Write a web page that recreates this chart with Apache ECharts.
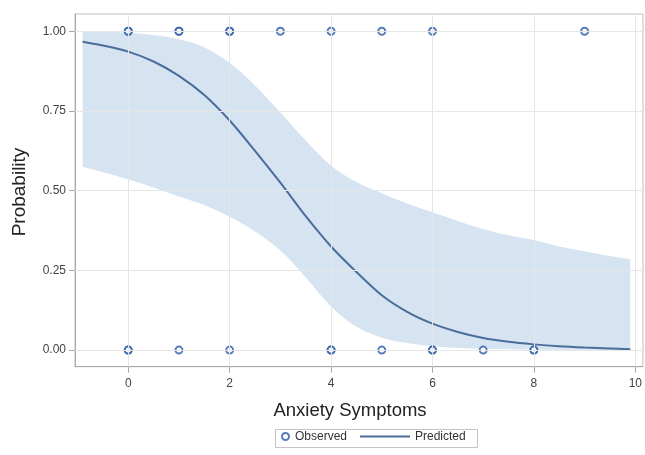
<!DOCTYPE html>
<html>
<head>
<meta charset="utf-8">
<script src="https://cdn.jsdelivr.net/npm/echarts@6/dist/echarts.min.js"></script>
<style>html,body{margin:0;padding:0;background:#fff;}#c{width:645px;height:455px;}</style>
</head>
<body>
<div id="c"></div>
<script>
// Predicted curve and confidence band
const curveX   = [-0.9, -0.5, 0, 0.5, 1, 1.5, 2, 2.5, 3, 3.5, 4, 4.5, 5, 5.5, 6, 6.5, 7, 7.5, 8, 8.5, 9, 9.5, 9.9];
const predicted = [0.967, 0.955, 0.936, 0.905, 0.86, 0.80, 0.72, 0.625, 0.525, 0.42, 0.325, 0.245, 0.172, 0.12, 0.083, 0.057, 0.038, 0.026, 0.018, 0.012, 0.008, 0.005, 0.003];
const upperCL  = [0.999, 0.998, 0.995, 0.988, 0.975, 0.95, 0.90, 0.83, 0.745, 0.657, 0.578, 0.527, 0.492, 0.46, 0.432, 0.405, 0.38, 0.36, 0.345, 0.325, 0.31, 0.295, 0.285];
const lowerCL  = [0.575, 0.558, 0.536, 0.51, 0.482, 0.455, 0.418, 0.372, 0.312, 0.228, 0.137, 0.073, 0.039, 0.022, 0.012, 0.007, 0.004, 0.003, 0.002, 0.001, 0.001, 0.0, 0.0];
// Observed outcomes
const obsX = [0, 0, 1, 1, 2, 2, 3, 4, 5, 6, 9, 0, 0, 1, 2, 4, 4, 5, 6, 6, 7, 8, 8];
const obsY = [1, 1, 1, 1, 1, 1, 1, 1, 1, 1, 1, 0, 0, 0, 0, 0, 0, 0, 0, 0, 0, 0, 0];
// Ticks
const xTicks = [0, 2, 4, 6, 8, 10];
const yTicks = [0, 0.25, 0.5, 0.75, 1];

const FONT = 'Liberation Sans, Arial, sans-serif';
const chart = echarts.init(document.getElementById('c'));

const bandData = curveX.map((x, i) => [x, lowerCL[i], upperCL[i]]);
const predData = curveX.map((x, i) => [x, predicted[i]]);
const obsData = obsX.map((x, i) => [x, obsY[i]]);

// Catmull-Rom smoothing of pixel points into SVG cubic segments (rendering only)
function smoothSegs(p) {
  let d = '';
  const n = p.length;
  for (let i = 0; i < n - 1; i++) {
    const p0 = p[Math.max(i - 1, 0)], p1 = p[i], p2 = p[i + 1], p3 = p[Math.min(i + 2, n - 1)];
    const c1 = [p1[0] + (p2[0] - p0[0]) / 6, p1[1] + (p2[1] - p0[1]) / 6];
    const c2 = [p2[0] - (p3[0] - p1[0]) / 6, p2[1] - (p3[1] - p1[1]) / 6];
    d += ' C' + c1[0] + ',' + c1[1] + ' ' + c2[0] + ',' + c2[1] + ' ' + p2[0] + ',' + p2[1];
  }
  return d;
}

chart.setOption({
  animation: false,
  backgroundColor: '#fff',
  grid: { left: 75, top: 14, width: 570, height: 352.7, show: true, borderColor: '#bdbdbd', borderWidth: 1, backgroundColor: 'transparent' },
  xAxis: {
    type: 'value', min: -1.05, max: 10.15,
    axisLine: { show: true, onZero: false, lineStyle: { color: '#a8a8a8', width: 1 } },
    axisTick: { show: true, customValues: xTicks, length: 6, lineStyle: { color: '#a8a8a8' } },
    axisLabel: { customValues: xTicks, color: '#444', fontSize: 12, fontFamily: FONT, margin: 11 },
    splitLine: { show: false }
  },
  yAxis: {
    type: 'value', min: -0.052, max: 1.054,
    axisLine: { show: true, onZero: false, lineStyle: { color: '#a8a8a8', width: 1 } },
    axisTick: { show: true, customValues: yTicks, length: 6, lineStyle: { color: '#a8a8a8' } },
    axisLabel: { customValues: yTicks, color: '#444', fontSize: 12, fontFamily: FONT, margin: 9,
      formatter: v => v.toFixed(2) },
    splitLine: { show: false }
  },
  legend: [
    { data: [{ name: 'Observed', icon: 'emptyCircle' }], left: 281, top: 430.5, itemWidth: 7, itemHeight: 7, padding: 0,
      itemStyle: { color: '#2b5ba8', borderColor: '#2b5ba8', borderWidth: 1.6 },
      textStyle: { color: '#333', fontSize: 12, fontFamily: FONT, padding: [0, 0, 0, 1] } },
    { data: [{ name: 'Predicted', icon: 'rect' }], left: 360, top: 430.5, itemWidth: 50, itemHeight: 2, padding: 0,
      itemStyle: { color: '#4a6d9c' },
      textStyle: { color: '#333', fontSize: 12, fontFamily: FONT } }
  ],
  graphic: [
    { type: 'rect', left: 273, top: 427, shape: { width: 202, height: 18 }, style: { fill: 'none', stroke: '#c4c4c4', lineWidth: 1 }, z: 0 },
    { type: 'text', x: 350, y: 411, style: { text: 'Anxiety Symptoms', font: '18.5px ' + FONT, fill: '#222', align: 'center', verticalAlign: 'middle' } },
    { type: 'text', x: 10, y: 192, rotation: Math.PI / 2, style: { text: 'Probability', font: '19px ' + FONT, fill: '#222', align: 'center', verticalAlign: 'top' } }
  ],
  series: [
    {
      name: 'grid', type: 'line', data: [], z: 1, silent: true,
      markLine: {
        silent: true, symbol: 'none', label: { show: false },
        lineStyle: { color: '#e6e6e6', width: 1, type: 'solid' },
        data: xTicks.map(v => ({ xAxis: v })).concat(yTicks.map(v => ({ yAxis: v })))
      }
    },
    {
      name: 'band', type: 'custom', data: bandData, silent: true, z: 2,
      encode: { x: 0, y: [1, 2] },
      renderItem: function (params, api) {
        if (params.dataIndex !== 0) return null;
        const up = [], lo = [];
        for (let i = 0; i < bandData.length; i++) {
          up.push(api.coord([bandData[i][0], bandData[i][2]]));
          lo.push(api.coord([bandData[i][0], bandData[i][1]]));
        }
        lo.reverse();
        const d = 'M' + up[0][0] + ',' + up[0][1] + smoothSegs(up) +
                  ' L' + lo[0][0] + ',' + lo[0][1] + smoothSegs(lo) + ' Z';
        return { type: 'path', shape: { pathData: d }, style: { fill: 'rgba(91,146,199,0.25)' } };
      }
    },
    { name: 'Predicted', type: 'line', data: predData, symbol: 'none', smooth: 0.3,
      lineStyle: { color: '#4a6d9c', width: 2 }, itemStyle: { color: '#4a6d9c' }, z: 3 },
    { name: 'Observed', type: 'scatter', data: obsData, symbol: 'emptyCircle', symbolSize: 7,
      itemStyle: { color: '#2b5ba8', borderColor: '#2b5ba8', borderWidth: 1.6 }, z: 4 }
  ]
});
</script>
</body>
</html>
